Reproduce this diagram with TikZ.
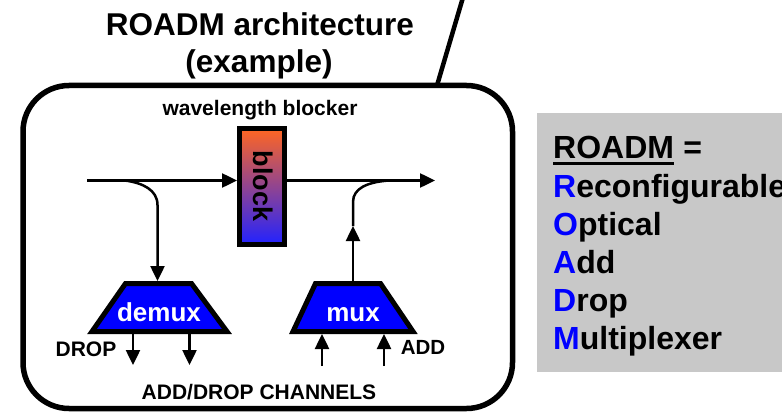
\documentclass[tikz,border=0pt]{standalone}
\usepackage{fontspec}
\setmainfont{Liberation Sans}
\usetikzlibrary{arrows.meta}
\definecolor{blkorange}{HTML}{FF6622}
\definecolor{blkblue}{HTML}{2222FF}
\definecolor{panelgray}{HTML}{C8C8C8}
\definecolor{muxblue}{HTML}{0000FF}
\begin{document}
\begin{tikzpicture}[x=1pt,y=-1pt,
  txt/.style={inner sep=0pt, anchor=base, font=\bfseries\fontsize{#1}{#1}\selectfont},
  wire/.style={line width=2.5pt},
  arr/.style={wire,-{Triangle[width=14pt,length=15pt]}},
  trap/.style={draw, line width=5pt, fill=muxblue, line join=miter},
  lbl/.style={inner sep=0pt, anchor=base west, font=\bfseries\fontsize{32}{32}\selectfont}]
\useasboundingbox (0,0) rectangle (782,412);

% title
\node[txt=31.5] (title1) at (260,36) {ROADM architecture};
\node[txt=31.5] (title2) at (259,73) {(example)};

% frame
\node[draw, line width=5.5pt, rounded corners=46pt, minimum width=489.5pt, minimum height=323pt, inner sep=0pt] (frame) at (267.75,247) {};
\coordinate (tailbase) at (437,85.5);
\coordinate (tailtop) at (464,-6);
\draw[line width=4.5pt] (tailbase) -- (tailtop);

% blocker
\node[txt=21] (wbl) at (260,115) {wavelength blocker};
\node[draw, line width=5pt, top color=blkorange, bottom color=blkblue, minimum width=45pt, minimum height=116pt, inner sep=0pt] (block) at (262,186.5) {};
\node[rotate=-90, inner sep=0pt, font=\bfseries\fontsize{27}{27}\selectfont] (blocktxt) at (263,186) {block};

% main line
\coordinate (in) at (87,180.5);
\coordinate (out) at (435,180.5);
\draw[arr] (in) -- (in -| block.west);
\draw[arr] (out -| block.east) -- (out);

% demux
\draw[trap] (125.5,283.5) -- (191.5,283.5) -- (227,331.5) -- (92,331.5) -- cycle;
\coordinate (demuxtop) at (157.5,281);
\node[txt=26, text=white] (demux) at (159,321) {demux};
\coordinate (dsplit) at (125,180.5);
\coordinate (dturn) at (157.5,205);
\draw[arr] (dsplit) .. controls (143,183) and (157.5,190) .. (dturn) -- (demuxtop);

% mux
\draw[trap] (315.5,283.5) -- (380.5,283.5) -- (413,331.5) -- (293,331.5) -- cycle;
\coordinate (muxtop) at (353,281);
\node[txt=26, text=white] (mux) at (353,321) {mux};
\coordinate (amid) at (353,226);
\coordinate (aturn) at (353,202);
\coordinate (ajoin) at (389,180.5);
\draw[arr] (muxtop) -- (amid);
\draw[wire] (amid) -- (aturn) .. controls (353,188) and (368,182) .. (ajoin);

% drop / add channels
\coordinate (d1s) at (133,334); \coordinate (d1e) at (133,365);
\coordinate (d2s) at (189.5,334); \coordinate (d2e) at (189.5,365);
\coordinate (a1s) at (322,366); \coordinate (a1e) at (322,334);
\coordinate (a2s) at (384,366); \coordinate (a2e) at (384,334);
\draw[arr] (d1s) -- (d1e);
\draw[arr] (d2s) -- (d2e);
\draw[arr] (a1s) -- (a1e);
\draw[arr] (a2s) -- (a2e);
\node[txt=21] (drop) at (86,356.5) {DROP};
\node[txt=20.5] (add) at (423,354) {ADD};
\node[txt=21] (channels) at (259,399) {ADD/DROP CHANNELS};

% right panel
\node[fill=panelgray, anchor=north west, minimum width=270pt, minimum height=259pt, inner sep=0pt] (panel) at (537,113) {};
\node[lbl] (roadm) at (553,158) {ROADM};
\node[lbl] (eq) at (roadm.base east) {\ =};
\draw[line width=3pt] ([yshift=-5pt]roadm.base west) -- ([yshift=-5pt]roadm.base east);
\node[lbl] (r) at (553,197) {\textcolor{muxblue}{R}econfigurable};
\node[lbl] (o) at (553,235) {\textcolor{muxblue}{O}ptical};
\node[lbl] (a) at (553,273) {\textcolor{muxblue}{A}dd};
\node[lbl] (d) at (553,311) {\textcolor{muxblue}{D}rop};
\node[lbl] (m) at (553,349) {\textcolor{muxblue}{M}ultiplexer};
\end{tikzpicture}
\end{document}
